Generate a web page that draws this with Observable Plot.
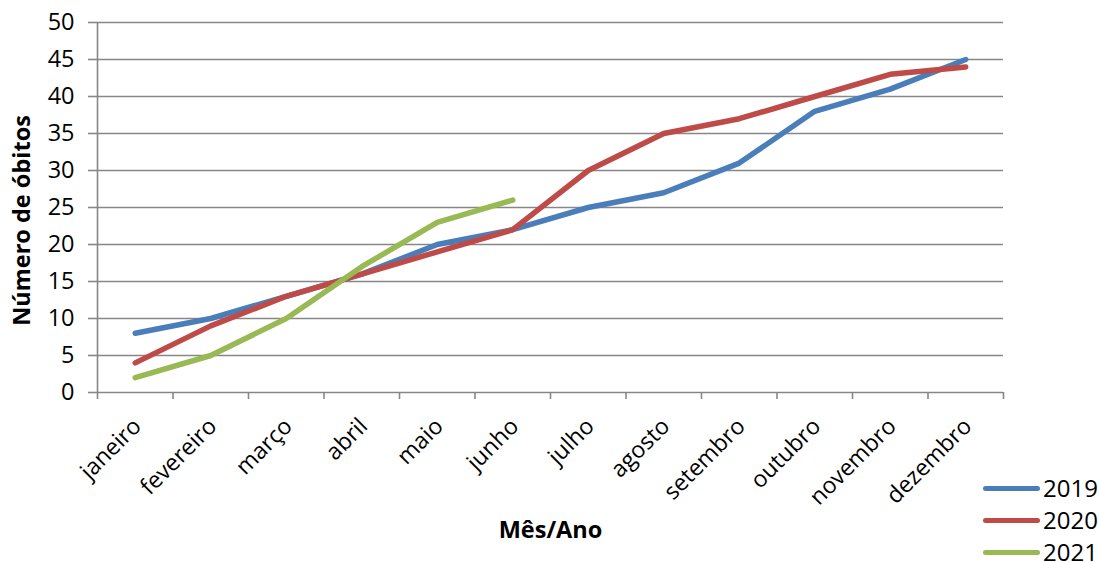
<!DOCTYPE html>
<html>
<head>
<meta charset="utf-8">
<script src="https://cdn.jsdelivr.net/npm/d3@7"></script>
<script src="https://cdn.jsdelivr.net/npm/@observablehq/plot@0.6"></script>
<style>
  html, body { margin: 0; padding: 0; background: white; overflow: hidden; }
  #wrap { position: relative; width: 1099px; height: 562px; overflow: hidden; font-family: "Open Sans", sans-serif; }
  #legend { position: absolute; left: 983px; top: 472px; }
  .item { display: flex; align-items: center; height: 32px; white-space: nowrap; }
  .sw { width: 57px; height: 5px; border-radius: 3px; margin-right: 3px; flex: none; }
  .lab { font-size: 24px; color: #000; line-height: 32px; }
</style>
</head>
<body>
<div id="wrap">
  <div id="chart"></div>
  <div id="legend"></div>
</div>
<script>
const months = ["janeiro","fevereiro","março","abril","maio","junho","julho","agosto","setembro","outubro","novembro","dezembro"];
const years = ["2019","2020","2021"];
const colors = ["#4a7ebb","#be4b48","#98b954"];
const v2019 = [8,10,13,16,20,22,25,27,31,38,41,45];
const v2020 = [4,9,13,16,19,22,30,35,37,40,43,44];
const v2021 = [2,5,10,17,23,26];
const yTicks = [0,5,10,15,20,25,30,35,40,45,50];
const yTitle = "Número de óbitos";
const xTitle = "Mês/Ano";

const series = [v2019, v2020, v2021];
const rows = [];
series.forEach((vals, s) => vals.forEach((v, i) => rows.push({pos: i + 0.5, value: v, year: years[s]})));
const boundaries = d3.range(months.length + 1);
const grid = "#878787";

const chart = Plot.plot({
  width: 1099,
  height: 562,
  marginLeft: 97,
  marginRight: 96,
  marginTop: 22,
  marginBottom: 170,
  style: {fontFamily: "'Open Sans', sans-serif", background: "white", color: "black", overflow: "visible"},
  x: {domain: [0, months.length], axis: null, label: null},
  y: {domain: [0, 50], axis: null, label: null},
  color: {domain: years, range: colors},
  marks: [
    Plot.ruleY(yTicks.filter(d => d > 0), {stroke: grid, strokeWidth: 1.6}),
    Plot.ruleY([0], {stroke: grid, strokeWidth: 1.6}),
    Plot.ruleX([0], {stroke: grid, strokeWidth: 1.6}),
    Plot.axisY({ticks: yTicks, tickSize: 9, tickPadding: 14, stroke: grid, strokeWidth: 1.6, fill: "black", fontSize: 23.5, label: null, tickFormat: d => String(d)}),
    Plot.axisX({ticks: boundaries, tickSize: 7, stroke: grid, strokeWidth: 1.6, label: null, tickFormat: () => ""}),
    Plot.text(months, {x: (d, i) => i + 0.5, y: 0, text: d => d, rotate: -45, textAnchor: "end", dx: 2, dy: 30, fontSize: 23}),
    Plot.line(rows, {x: "pos", y: "value", z: "year", stroke: "year", strokeWidth: 5.5, strokeLinecap: "round", strokeLinejoin: "round"}),
    Plot.text([yTitle], {frameAnchor: "left", textAnchor: "middle", dx: -75, dy: 13, rotate: -90, fontSize: 23.5, fontWeight: "bold"}),
    Plot.text([xTitle], {frameAnchor: "bottom", dy: 145, fontSize: 23.5, fontWeight: "bold"})
  ]
});
document.getElementById("chart").appendChild(chart);

const legend = document.getElementById("legend");
years.forEach((y, i) => {
  const item = document.createElement("div");
  item.className = "item";
  item.innerHTML = `<div class="sw" style="background:${colors[i]}"></div><span class="lab">${y}</span>`;
  legend.appendChild(item);
});
</script>
</body>
</html>
